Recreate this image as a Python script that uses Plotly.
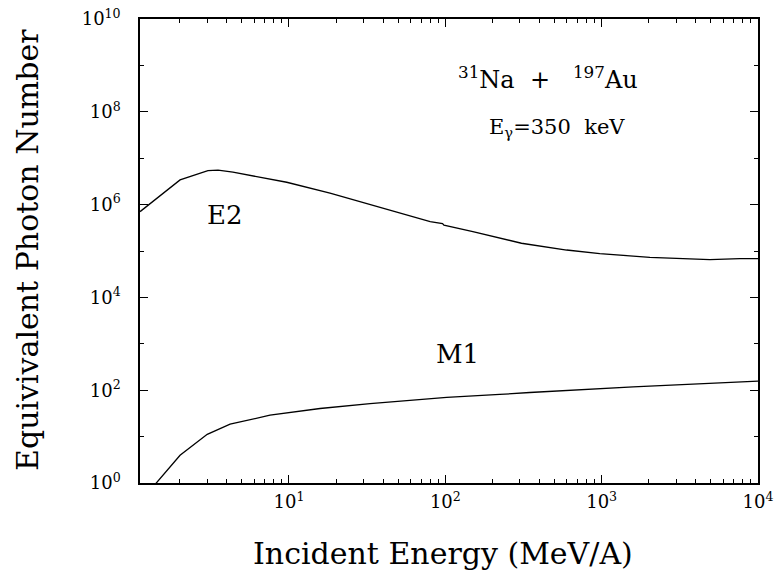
import plotly.graph_objects as go

# Equivalent photon numbers for 31Na on 197Au, E_gamma = 350 keV
energy_e2 = [1.115, 2.01, 3.03, 3.52, 4.38, 9.67, 18.3, 29.9, 56.6, 80, 96, 98,
             150, 223, 307, 597, 973, 2034, 4920, 7660, 10000]
photons_e2 = [7.05e5, 3.40e6, 5.41e6, 5.51e6, 4.99e6, 3.03e6, 1.76e6, 1.10e6, 5.98e5,
              4.29e5, 3.90e5, 3.60e5, 2.61e5, 1.88e5, 1.47e5, 1.05e5, 8.75e4, 7.31e4,
              6.49e4, 6.82e4, 6.82e4]

energy_m1 = [1.1, 1.41, 2.01, 3.0, 4.2, 7.56, 15.8, 33, 102, 223, 347, 1590, 10000]
photons_m1 = [0.37, 1.0, 3.96, 11.2, 18.5, 28.9, 40.3, 51.6, 69.7, 80.9, 89.3, 118, 157]

x_major = [10, 100, 1000, 10000]
x_major_text = ["10<sup>1</sup>", "10<sup>2</sup>", "10<sup>3</sup>", "10<sup>4</sup>"]
x_minor = [m * d for d in (1, 10, 100, 1000) for m in range(2, 10)]

y_major = [1, 1e2, 1e4, 1e6, 1e8, 1e10]
y_major_text = ["10<sup>0</sup>", "10<sup>2</sup>", "10<sup>4</sup>", "10<sup>6</sup>",
                "10<sup>8</sup>", "10<sup>10</sup>"]
y_minor = [10, 1e3, 1e5, 1e7, 1e9]

FONT = "DejaVu Serif"
line_style = dict(color="black", width=1.3)

fig = go.Figure()
fig.add_trace(go.Scatter(x=energy_e2, y=photons_e2, mode="lines", line=line_style,
                         name="E2", showlegend=False))
fig.add_trace(go.Scatter(x=energy_m1, y=photons_m1, mode="lines", line=line_style,
                         name="M1", showlegend=False))

axis_common = dict(
    showgrid=False, zeroline=False, showline=True, linecolor="black", linewidth=1.5,
    mirror="allticks", ticks="inside", ticklen=8, tickwidth=1.2, tickcolor="black",
    tickfont=dict(family=FONT, size=18, color="black"),
)

fig.update_xaxes(
    type="log", range=[0.047, 4], tickmode="array", tickvals=x_major,
    ticktext=x_major_text, ticklabelstandoff=2,
    minor=dict(tickmode="array", tickvals=x_minor, ticks="inside", ticklen=4,
               tickwidth=1, tickcolor="black"),
    **axis_common,
)
fig.update_yaxes(
    type="log", range=[0, 10], tickmode="array", tickvals=y_major,
    ticktext=y_major_text, ticklabelstandoff=14,
    minor=dict(tickmode="array", tickvals=y_minor, ticks="inside", ticklen=4,
               tickwidth=1, tickcolor="black"),
    **axis_common,
)

annotations = [
    dict(text="Incident Energy (MeV/A)", xref="paper", yref="paper", x=0.49, y=-0.151,
         xanchor="center", yanchor="middle", showarrow=False,
         font=dict(family=FONT, size=30, color="black")),
    dict(text="Equivivalent Photon Number", xref="paper", yref="paper", x=-0.183, y=0.502,
         xanchor="center", yanchor="middle", textangle=-90, showarrow=False,
         font=dict(family=FONT, size=30, color="black")),
    dict(text="E2", x=0.591, y=5.777, xref="x", yref="y", showarrow=False,
         font=dict(family=FONT, size=26, color="black")),
    dict(text="M1", x=2.079, y=2.777, xref="x", yref="y", showarrow=False,
         font=dict(family=FONT, size=26, color="black")),
    dict(text="<sup>31</sup>Na  +   <sup>197</sup>Au", xref="paper", yref="paper",
         x=(548 - 140) / 618, y=(483 - 78) / 464, xanchor="center", yanchor="middle",
         showarrow=False, font=dict(family=FONT, size=24, color="black")),
    dict(text="E<sub>γ</sub>=350  keV", xref="paper", yref="paper",
         x=(557 - 140) / 618, y=(483 - 128) / 464, xanchor="center", yanchor="middle",
         showarrow=False, font=dict(family=FONT, size=21, color="black")),
]

fig.update_layout(
    width=775, height=584,
    margin=dict(l=140, r=17, t=19, b=101, autoexpand=False),
    paper_bgcolor="white", plot_bgcolor="white",
    annotations=annotations,
)

fig.write_html("out.html")
